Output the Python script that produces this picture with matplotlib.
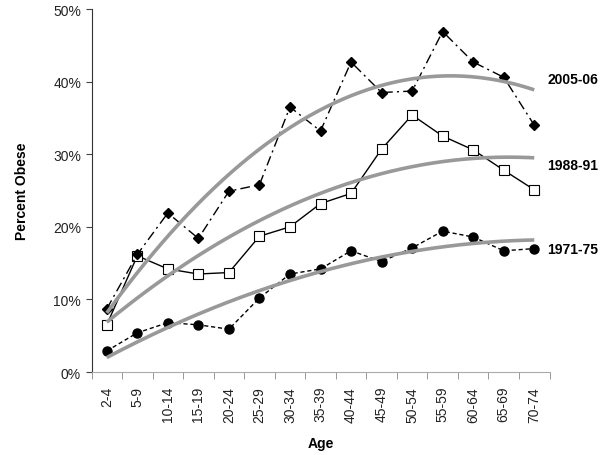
import numpy as np
import matplotlib.pyplot as plt

plt.rcParams['font.family'] = ['Liberation Sans', 'DejaVu Sans']

ages = ['2-4', '5-9', '10-14', '15-19', '20-24', '25-29', '30-34', '35-39',
        '40-44', '45-49', '50-54', '55-59', '60-64', '65-69', '70-74']

# percent obese by survey period
obese_1971 = [2.9, 5.4, 6.8, 6.5, 5.9, 10.2, 13.5, 14.2, 16.7, 15.2, 17.1, 19.4, 18.6, 16.7, 17.0]
obese_1988 = [6.5, 16.0, 14.2, 13.5, 13.7, 18.7, 20.0, 23.2, 24.6, 30.7, 35.4, 32.5, 30.6, 27.8, 25.1]
obese_2005 = [8.7, 16.2, 21.9, 18.4, 24.9, 25.8, 36.5, 33.2, 42.7, 38.5, 38.7, 46.9, 42.7, 40.6, 34.0]

labels = ['1971-75', '1988-91', '2005-06']

fig = plt.figure(figsize=(6.04, 4.56), dpi=100)
ax = fig.add_axes([0.1515, 0.182, 0.7583, 0.796])

x = np.arange(len(ages))

# polynomial (order 2) trendlines, as in the original spreadsheet chart
for ys in [obese_1971, obese_1988, obese_2005]:
    c = np.polyfit(x, ys, 2)
    xs = np.linspace(0, 14, 200)
    ax.plot(xs, np.polyval(c, xs), color='#999999', lw=2.6, zorder=3, solid_capstyle='butt')

ax.plot(x, obese_1971, color='black', lw=1, ls=(0, (3, 2)), marker='o',
        ms=6.5, mfc='black', mec='black', zorder=2)
ax.plot(x, obese_1988, color='black', lw=1, ls='-', marker='s',
        ms=7, mfc='white', mec='black', mew=0.8, zorder=2)
ax.plot(x, obese_2005, color='black', lw=1, ls=(0, (7, 3, 1.5, 3)), marker='D',
        ms=5.5, mfc='black', mec='black', zorder=2)

ax.set_xlim(-0.5, 14.5)
ax.set_ylim(0, 50)
ax.set_yticks(range(0, 51, 10))
ax.set_yticklabels([f'{v}%' for v in range(0, 51, 10)], fontsize=10, color='#222222')
ax.set_xticks(x)
ax.set_xticklabels(ages, rotation=90, fontsize=10, color='#222222')
ax.set_xticks(np.arange(-0.5, 15, 1), minor=True)
ax.tick_params(axis='x', which='major', length=0, pad=10)
ax.tick_params(axis='x', which='minor', length=5, color='#888888', direction='out')
ax.tick_params(axis='y', length=4, color='#444444', direction='out')

for s in ['top', 'right']:
    ax.spines[s].set_visible(False)
ax.spines['left'].set_color('#333333')
ax.spines['bottom'].set_color('#aaaaaa')

ax.set_ylabel('Percent Obese', fontsize=10, fontweight='bold', labelpad=17)
ax.set_xlabel('Age', fontsize=10, fontweight='bold', labelpad=10)

ax.text(14.42, 17.0, labels[0], fontsize=10, fontweight='bold', va='center', clip_on=False)
ax.text(14.42, 28.5, labels[1], fontsize=10, fontweight='bold', va='center', clip_on=False)
ax.text(14.42, 40.3, labels[2], fontsize=10, fontweight='bold', va='center', clip_on=False)

fig.savefig('out.png', dpi=100)
